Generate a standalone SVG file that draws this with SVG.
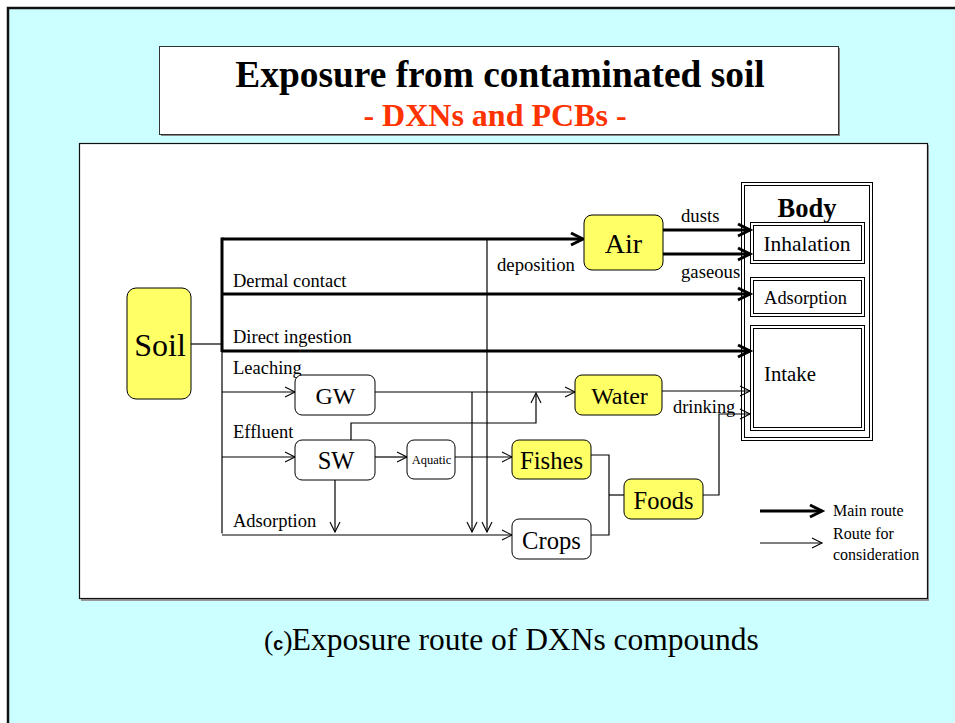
<svg xmlns="http://www.w3.org/2000/svg" width="955" height="723" viewBox="0 0 955 723">
<defs>
<style>
.t{font-family:"Liberation Serif","Times New Roman",serif;fill:#000}
.sans{font-family:"Liberation Sans",Arial,sans-serif}
.thick{stroke:#000;stroke-width:3;fill:none}
.thin{stroke:#000;stroke-width:1.2;fill:none}
.yb{fill:#FFFF66;stroke:#000;stroke-width:1}
.wb{fill:#fff;stroke:#000;stroke-width:1}
.bl{fill:none;stroke:#000;stroke-width:1}
</style>
<marker id="ah" markerUnits="userSpaceOnUse" viewBox="-14 -8 16 16" refX="0" refY="0" markerWidth="16" markerHeight="16" orient="auto" overflow="visible">
<path d="M-12,-6 L0,0 L-12,6" fill="none" stroke="#000" stroke-width="3"/>
</marker>
<marker id="at" markerUnits="userSpaceOnUse" viewBox="-12 -6 14 12" refX="0" refY="0" markerWidth="14" markerHeight="12" orient="auto" overflow="visible">
<path d="M-10,-5 L0,0 L-10,5" fill="none" stroke="#000" stroke-width="1.1"/>
</marker>
</defs>
<!-- background -->
<rect x="0" y="0" width="955" height="723" fill="#fff"/>
<rect x="8" y="8" width="960" height="730" fill="#CCFFFF" stroke="#111" stroke-width="2.5"/>
<!-- title box -->
<g id="title">
<rect x="161" y="48" width="679" height="88" fill="#888"/>
<rect x="159.5" y="46.5" width="679" height="88" fill="#fff" stroke="#333" stroke-width="1"/>
<text class="t" x="500" y="87" text-anchor="middle" font-size="37.4" font-weight="bold">Exposure from contaminated soil</text>
<text class="t" x="495" y="126" text-anchor="middle" font-size="32" font-weight="bold" style="fill:#FF3300">- DXNs and PCBs -</text>
</g>
<!-- diagram panel -->
<rect x="81" y="145" width="848" height="456" fill="#999"/>
<rect x="79.5" y="143.5" width="848" height="455" fill="#fff" stroke="#111" stroke-width="1.2"/>

<g id="connectors">
<!-- soil trunk -->
<line class="thin" x1="191" y1="344" x2="222" y2="344"/>
<line class="thick" x1="222" y1="237.5" x2="222" y2="352"/>
<line class="thin" x1="222" y1="351" x2="222" y2="533.5"/>
<line class="thick" x1="222" y1="239" x2="583" y2="239" marker-end="url(#ah)"/>
<line class="thick" x1="222" y1="294" x2="750" y2="294" marker-end="url(#ah)"/>
<line class="thick" x1="222" y1="351" x2="750" y2="351" marker-end="url(#ah)"/>
<!-- air to body -->
<line class="thick" x1="663" y1="230" x2="750" y2="230" marker-end="url(#ah)"/>
<line class="thick" x1="663" y1="254" x2="750" y2="254" marker-end="url(#ah)"/>
<!-- deposition -->
<line class="thin" x1="487" y1="239" x2="487" y2="532" marker-end="url(#at)"/>
<!-- leaching -->
<line class="thin" x1="222" y1="392" x2="295" y2="392" marker-end="url(#at)"/>
<line class="thin" x1="375" y1="392" x2="575" y2="392" marker-end="url(#at)"/>
<line class="thin" x1="472" y1="392" x2="472" y2="532" marker-end="url(#at)"/>
<!-- effluent -->
<line class="thin" x1="222" y1="457" x2="295" y2="457" marker-end="url(#at)"/>
<polyline class="thin" points="351,440 351,423 536,423 536,393" marker-end="url(#at)"/>
<line class="thin" x1="375" y1="457" x2="407" y2="457" marker-end="url(#at)"/>
<line class="thin" x1="455" y1="457" x2="512" y2="457" marker-end="url(#at)"/>
<line class="thin" x1="335" y1="480" x2="335" y2="532" marker-end="url(#at)"/>
<!-- adsorption -->
<line class="thin" x1="222" y1="535" x2="512" y2="535" marker-end="url(#at)"/>
<!-- foods merge -->
<polyline class="thin" points="591,455 609,455 609,535 591,535"/>
<line class="thin" x1="609" y1="495" x2="624" y2="495"/>
<!-- water & foods to body -->
<line class="thin" x1="662" y1="391" x2="750" y2="391" marker-end="url(#at)"/>
<polyline class="thin" points="703,495 719,495 719,414 750,414" marker-end="url(#at)"/>
<!-- legend -->
<line class="thick" x1="760" y1="511" x2="822" y2="511" marker-end="url(#ah)"/>
<line class="thin" x1="760" y1="543" x2="822" y2="543" marker-end="url(#at)"/>
</g>

<!-- labels -->
<g id="labels">
<text class="t" x="233" y="287" font-size="18.5">Dermal contact</text>
<text class="t" x="233" y="343" font-size="18.5">Direct ingestion</text>
<text class="t" x="233" y="374" font-size="18.5">Leaching</text>
<text class="t" x="233" y="438" font-size="18.5">Effluent</text>
<text class="t" x="233" y="527" font-size="18.5">Adsorption</text>
<text class="t" x="497" y="271" font-size="18.7">deposition</text>
<text class="t" x="681" y="222" font-size="18.7">dusts</text>
<text class="t" x="681" y="278" font-size="18.7">gaseous</text>
<text class="t" x="673" y="413" font-size="18.4">drinking</text>
<text class="t" x="833" y="516" font-size="16">Main route</text>
<text class="t" x="833" y="539" font-size="16">Route for</text>
<text class="t" x="833" y="560" font-size="16">consideration</text>
</g>

<g id="soil">
<rect class="yb" x="127" y="288" width="64" height="111" rx="9"/>
<text class="t" x="160" y="356" text-anchor="middle" font-size="32">Soil</text>
</g>
<g id="air">
<rect class="yb" x="584" y="215" width="79" height="55" rx="8"/>
<text class="t" x="623.5" y="253" text-anchor="middle" font-size="28">Air</text>
</g>
<g id="gw">
<rect class="wb" x="295" y="375" width="80" height="40" rx="7"/>
<text class="t" x="335.5" y="404" text-anchor="middle" font-size="24">GW</text>
</g>
<g id="water">
<rect class="yb" x="575" y="375" width="87" height="40" rx="7"/>
<text class="t" x="619.5" y="404" text-anchor="middle" font-size="24">Water</text>
</g>
<g id="sw">
<rect class="wb" x="295" y="440" width="80" height="40" rx="7"/>
<text class="t" x="336" y="469" text-anchor="middle" font-size="24.5">SW</text>
</g>
<g id="aquatic">
<rect class="wb" x="407" y="440" width="48" height="39" rx="7"/>
<text class="t" x="431.5" y="464" text-anchor="middle" font-size="12.5">Aquatic</text>
</g>
<g id="fishes">
<rect class="yb" x="512" y="440" width="79" height="39" rx="7"/>
<text class="t" x="551.5" y="469" text-anchor="middle" font-size="24.7">Fishes</text>
</g>
<g id="crops">
<rect class="wb" x="512" y="519" width="79" height="40" rx="7"/>
<text class="t" x="551.5" y="549" text-anchor="middle" font-size="24.6">Crops</text>
</g>
<g id="foods">
<rect class="yb" x="624" y="479" width="79" height="40" rx="7"/>
<text class="t" x="663.5" y="509" text-anchor="middle" font-size="24.5">Foods</text>
</g>
<g id="body">
<rect class="bl" x="741.5" y="182.5" width="131" height="258"/>
<rect class="bl" x="744.5" y="185.5" width="125" height="252"/>
<text class="t" x="807" y="217" text-anchor="middle" font-size="26.5" font-weight="bold">Body</text>
<g id="inhalation">
<rect class="bl" x="750.5" y="222.5" width="114" height="41"/>
<rect class="bl" x="753.5" y="225.5" width="108" height="35"/>
<text class="t" x="807" y="251" text-anchor="middle" font-size="21.5">Inhalation</text>
</g>
<g id="adsorption">
<rect class="bl" x="750.5" y="277.5" width="114" height="39"/>
<rect class="bl" x="753.5" y="280.5" width="108" height="33"/>
<text class="t" x="805.5" y="304" text-anchor="middle" font-size="18.4">Adsorption</text>
</g>
<g id="intake">
<rect class="bl" x="750.5" y="325.5" width="114" height="105"/>
<rect class="bl" x="753.5" y="328.5" width="108" height="99"/>
<text class="t" x="764" y="381" font-size="20.8">Intake</text>
</g>
</g>

<g id="caption">
<text x="264" y="650" font-size="28" class="t">(<tspan class="sans" font-size="18" font-weight="bold">c</tspan>)<tspan font-size="31.5" dx="-1">Exposure route of DXNs compounds</tspan></text>
</g>
</svg>
